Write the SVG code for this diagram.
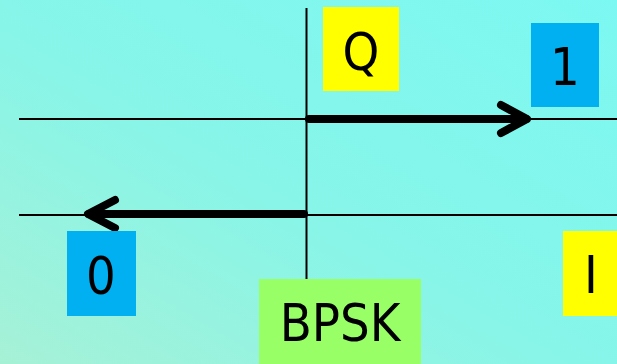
<svg xmlns="http://www.w3.org/2000/svg" width="617" height="364" viewBox="0 0 617 364">
<defs>
<linearGradient id="bg" x1="0" y1="1" x2="1" y2="0">
<stop offset="0" stop-color="#A6F1D6"/>
<stop offset="0.45" stop-color="#88F5E8"/>
<stop offset="1" stop-color="#7CF8F2"/>
</linearGradient>
<style>
.lbl{font-family:"DejaVu Sans Condensed","DejaVu Sans",sans-serif;font-size:52px;fill:#000;text-anchor:middle}
.axis{stroke:#000;stroke-width:2;fill:none}
.vec{stroke:#000;stroke-width:8;fill:none;stroke-linecap:round;stroke-linejoin:round}
</style>
</defs>
<rect width="617" height="364" fill="url(#bg)"/>
<g id="connectors">
<line class="axis" x1="306.5" y1="8" x2="306.5" y2="279"/>
<line class="axis" x1="19" y1="119" x2="617" y2="119"/>
<line class="axis" x1="19" y1="215" x2="617" y2="215"/>
<line class="vec" x1="309" y1="119" x2="526" y2="119"/>
<polyline class="vec" points="501,105 527,119 501,133"/>
<line class="vec" x1="304" y1="214" x2="89" y2="214"/>
<polyline class="vec" points="115,200 88,214 115,228"/>
</g>
<g id="Q">
<rect x="323" y="7" width="76" height="84" fill="#FFFF00"/>
<text class="lbl" x="361" y="70">Q</text>
</g>
<g id="one">
<rect x="531" y="23" width="68" height="84" fill="#00B0F0"/>
<text class="lbl" x="565" y="85">1</text>
</g>
<g id="zero">
<rect x="67" y="231" width="69" height="85" fill="#00B0F0"/>
<text class="lbl" x="101" y="294">0</text>
</g>
<g id="I">
<rect x="563" y="231" width="54" height="85" fill="#FFFF00"/>
<text class="lbl" x="591" y="293">I</text>
</g>
<g id="BPSK">
<rect x="259" y="279" width="162" height="85" fill="#99FF66"/>
<text class="lbl" x="340" y="341">BPSK</text>
</g>
</svg>
